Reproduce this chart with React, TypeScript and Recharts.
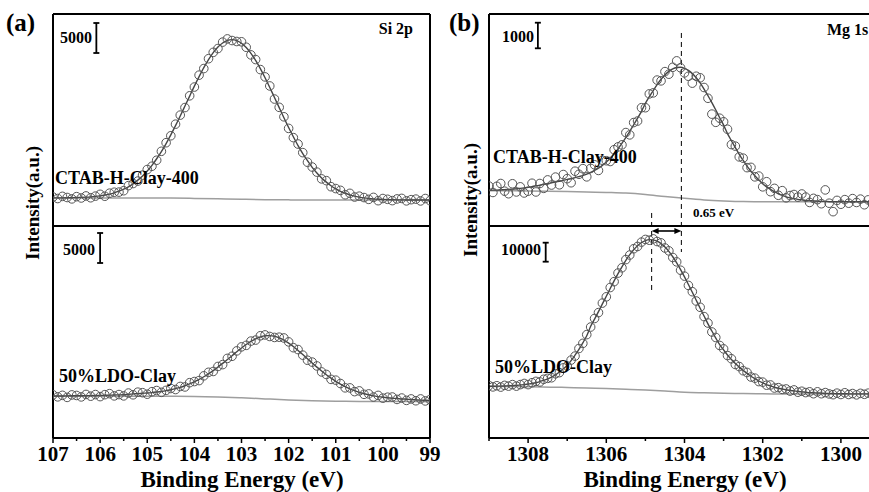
import React from 'react';
import { ComposedChart, Line, Scatter, XAxis, YAxis, ReferenceLine } from 'recharts';

const FONT = 'Liberation Serif, DejaVu Serif, serif';

// ---------- (a) Si 2p ----------
const siEnergy = [
  107.0, 106.9, 106.8, 106.7, 106.6, 106.5, 106.4, 106.3, 106.2, 106.1,
  106.0, 105.9, 105.8, 105.7, 105.6, 105.5, 105.4, 105.3, 105.2, 105.1,
  105.0, 104.9, 104.8, 104.7, 104.6, 104.5, 104.4, 104.3, 104.2, 104.1,
  104.0, 103.9, 103.8, 103.7, 103.6, 103.5, 103.4, 103.3, 103.2, 103.1,
  103.0, 102.9, 102.8, 102.7, 102.6, 102.5, 102.4, 102.3, 102.2, 102.1,
  102.0, 101.9, 101.8, 101.7, 101.6, 101.5, 101.4, 101.3, 101.2, 101.1,
  101.0, 100.9, 100.8, 100.7, 100.6, 100.5, 100.4, 100.3, 100.2, 100.1,
  100.0, 99.9, 99.8, 99.7, 99.6, 99.5, 99.4, 99.3, 99.2, 99.1,
  99.0,
];
const siCtabObs = [
  4830, 4580, 4940, 4750, 4520, 4890, 4670, 5010, 4710, 4980,
  5280, 4960, 5470, 5630, 5650, 5880, 6730, 7080, 7490, 8480,
  9410, 9960, 10960, 12450, 13880, 15040, 16970, 18480, 19740, 21700,
  23160, 25140, 26240, 27880, 28940, 29580, 30650, 31180, 30910, 30750,
  30700, 29790, 28520, 27740, 26070, 24850, 23340, 21160, 19780, 18200,
  16270, 14730, 13660, 12230, 10630, 9830, 8980, 7850, 7560, 6550,
  6240, 5940, 5210, 5440, 4830, 4970, 4740, 4440, 4770, 4220,
  4580, 4450, 4230, 4510, 4600, 4190, 4390, 4480, 4180, 4580,
  4230,
];
const siCtabFit = [
  4680, 4680, 4690, 4700, 4720, 4740, 4770, 4810, 4860, 4930,
  5030, 5160, 5320, 5530, 5800, 6130, 6530, 7030, 7640, 8330,
  9160, 10110, 11210, 12400, 13730, 15190, 16720, 18330, 19990, 21650,
  23310, 24890, 26390, 27730, 28890, 29830, 30500, 30930, 31060, 30900,
  30450, 29740, 28770, 27590, 26220, 24700, 23090, 21410, 19730, 18050,
  16420, 14880, 13410, 12080, 10880, 9780, 8830, 8000, 7310, 6700,
  6190, 5790, 5460, 5190, 4980, 4820, 4690, 4590, 4520, 4470,
  4430, 4400, 4380, 4360, 4350, 4340, 4340, 4330, 4330, 4330,
  4330,
];
const siLdoObs = [
  7200, 6860, 7110, 6770, 7180, 7090, 6850, 7260, 6970, 7240,
  6900, 7220, 7390, 7020, 7240, 7020, 7490, 7200, 7640, 7550,
  7300, 7720, 7910, 7610, 7940, 8250, 8080, 8590, 8510, 9220,
  9410, 9570, 10360, 10950, 11090, 11920, 12230, 13270, 13620, 14520,
  15190, 15440, 16150, 16320, 17040, 17180, 16920, 16760, 16800, 16670,
  16020, 15050, 14740, 13810, 12960, 12650, 12010, 11010, 10590, 9770,
  9640, 9080, 8360, 8350, 7730, 7850, 7280, 7350, 6830, 7100,
  6640, 6800, 6830, 6430, 6660, 6270, 6510, 6210, 6510, 6180,
  6400,
];
const siLdoFit = [
  7000, 7010, 7010, 7020, 7030, 7040, 7050, 7060, 7070, 7090,
  7100, 7120, 7140, 7170, 7190, 7220, 7290, 7350, 7390, 7450,
  7500, 7570, 7660, 7760, 7890, 8050, 8230, 8440, 8710, 9020,
  9360, 9770, 10210, 10700, 11240, 11820, 12430, 13070, 13720, 14370,
  14990, 15590, 16100, 16520, 16840, 17030, 17070, 16960, 16700, 16320,
  15820, 15250, 14590, 13910, 13210, 12500, 11810, 11160, 10540, 9970,
  9440, 8980, 8560, 8200, 7880, 7600, 7380, 7200, 7030, 6900,
  6790, 6700, 6630, 6580, 6510, 6470, 6410, 6360, 6310, 6280,
  6250,
];
const siBgEnergy = [107, 106.5, 106, 105.5, 105, 104.5, 104, 103.5, 103, 102.5, 102, 101.5, 101, 100.5, 100, 99.5, 99];
const siCtabBg = [4670, 4670, 4670, 4670, 4665, 4655, 4600, 4525, 4450, 4390, 4355, 4335, 4330, 4330, 4330, 4330, 4330];
const siLdoBg = [6950, 6950, 6950, 6950, 6950, 6945, 6930, 6850, 6700, 6520, 6350, 6220, 6140, 6100, 6080, 6070, 6060];
const siTicks = [99, 99.5, 100, 100.5, 101, 101.5, 102, 102.5, 103, 103.5, 104, 104.5, 105, 105.5, 106, 106.5, 107];

// ---------- (b) Mg 1s ----------
const mgEnergy = [
  1309.0, 1308.9, 1308.8, 1308.7, 1308.6, 1308.5, 1308.4, 1308.3, 1308.2, 1308.1,
  1308.0, 1307.9, 1307.8, 1307.7, 1307.6, 1307.5, 1307.4, 1307.3, 1307.2, 1307.1,
  1307.0, 1306.9, 1306.8, 1306.7, 1306.6, 1306.5, 1306.4, 1306.3, 1306.2, 1306.1,
  1306.0, 1305.9, 1305.8, 1305.7, 1305.6, 1305.5, 1305.4, 1305.3, 1305.2, 1305.1,
  1305.0, 1304.9, 1304.8, 1304.7, 1304.6, 1304.5, 1304.4, 1304.3, 1304.2, 1304.1,
  1304.0, 1303.9, 1303.8, 1303.7, 1303.6, 1303.5, 1303.4, 1303.3, 1303.2, 1303.1,
  1303.0, 1302.9, 1302.8, 1302.7, 1302.6, 1302.5, 1302.4, 1302.3, 1302.2, 1302.1,
  1302.0, 1301.9, 1301.8, 1301.7, 1301.6, 1301.5, 1301.4, 1301.3, 1301.2, 1301.1,
  1301.0, 1300.9, 1300.8, 1300.7, 1300.6, 1300.5, 1300.4, 1300.3, 1300.2, 1300.1,
  1300.0, 1299.9, 1299.8, 1299.7, 1299.6, 1299.5, 1299.4, 1299.3, 1299.2, 1299.1,
  1299.0,
];
const mgCtabObs = [
  1560, 1310, 1550, 1660, 1360, 1260, 1650, 1330, 1530, 1290,
  1360, 1670, 1330, 1660, 1470, 1800, 1600, 1910, 1610, 2010,
  1850, 1690, 2140, 2020, 2240, 1920, 2250, 2390, 2170, 2570,
  2550, 2520, 2980, 3090, 3170, 3650, 3560, 4040, 4100, 4620,
  4620, 5160, 5200, 5700, 5670, 6030, 5930, 6200, 6450, 6180,
  5980, 5850, 5580, 5850, 5790, 5410, 4990, 4370, 4050, 4210,
  4070, 3780, 3180, 3120, 2700, 2650, 2280, 2290, 1920, 1950,
  1530, 1730, 1340, 1470, 1200, 1380, 1100, 1190, 1230, 1130,
  1250, 1130, 920, 1080, 1030, 870, 1410, 890, 560, 1000,
  850, 1030, 890, 1070, 920, 1050, 830, 1020, 900, 1040,
  930,
];
const mgCtabFit = [
  1390, 1400, 1400, 1410, 1420, 1430, 1440, 1450, 1470, 1490,
  1510, 1540, 1570, 1590, 1630, 1650, 1690, 1720, 1750, 1780,
  1820, 1850, 1890, 1930, 1970, 2030, 2090, 2170, 2260, 2370,
  2500, 2650, 2820, 3010, 3230, 3450, 3700, 3950, 4210, 4480,
  4790, 5050, 5290, 5520, 5730, 5900, 6040, 6140, 6190, 6200,
  6160, 6080, 5960, 5790, 5590, 5350, 5090, 4820, 4530, 4230,
  3940, 3610, 3330, 3060, 2800, 2560, 2340, 2140, 1960, 1800,
  1650, 1530, 1430, 1340, 1260, 1200, 1140, 1100, 1070, 1040,
  1020, 1000, 990, 980, 970, 960, 960, 950, 950, 950,
  950, 950, 950, 950, 950, 950, 950, 950, 950, 950,
  950,
];
const mgLdoObs = [
  27600, 26900, 27500, 26800, 27700, 27300, 28100, 27300, 28100, 28700,
  28100, 29100, 29800, 29500, 30900, 31400, 31700, 33800, 34400, 36900,
  37900, 41000, 43100, 47100, 49800, 54400, 58400, 62900, 66000, 71000,
  74300, 79200, 82300, 86800, 89600, 93900, 96300, 99600, 100800, 103100,
  104500, 104100, 104800, 103400, 102700, 100000, 98500, 95000, 92700, 88300,
  85200, 80300, 77000, 72100, 68800, 63900, 60500, 55800, 52900, 48700,
  46900, 43400, 41700, 38700, 37600, 35400, 34500, 32100, 31500, 29700,
  29400, 27800, 27900, 26300, 26500, 25600, 25800, 24700, 25300, 24100,
  24600, 23900, 24300, 23300, 24300, 23300, 23900, 23200, 22800, 23600,
  22900, 23800, 22900, 23400, 22700, 23500, 23000, 23600, 22900, 23400,
  22800,
];
const mgLdoFit = [
  27200, 27200, 27300, 27300, 27400, 27500, 27600, 27700, 27900, 28100,
  28400, 28700, 29100, 29700, 30400, 31100, 32100, 33200, 34700, 36400,
  38300, 40700, 43600, 46700, 50100, 53800, 58800, 62600, 66500, 70600,
  74600, 78700, 82700, 86500, 90100, 93500, 96500, 99100, 101200, 102800,
  103900, 104400, 104300, 103600, 102300, 100500, 98200, 95400, 92200, 88600,
  84800, 80800, 76700, 72500, 68300, 64200, 60100, 56300, 52600, 49100,
  46350, 43700, 41300, 39200, 37300, 35600, 34000, 32500, 31200, 30000,
  29000, 28100, 27400, 26700, 26200, 25800, 25400, 25000, 24800, 24500,
  24300, 24100, 23900, 23800, 23700, 23600, 23500, 23400, 23400, 23300,
  23300, 23300, 23200, 23200, 23200, 23200, 23200, 23200, 23200, 23200,
  23200,
];
const mgBgEnergy = [1309, 1308, 1307, 1306.5, 1306, 1305.5, 1305, 1304.5, 1304, 1303.5, 1303, 1302.5, 1302, 1301, 1300, 1299];
const mgCtabBg = [1380, 1370, 1350, 1330, 1310, 1285, 1230, 1150, 1080, 1020, 980, 955, 950, 947, 945, 945];
const mgLdoBg = [27100, 27000, 26580, 26310, 26050, 25680, 25260, 24740, 24100, 23790, 23530, 23400, 23260, 23160, 23160, 23160];
const mgTicks = [1299, 1300, 1301, 1302, 1303, 1304, 1305, 1306, 1307, 1308, 1309];

const zip = (xs: number[], ys: number[]) => xs.map((x, i) => ({ x, y: ys[i] }));

const OBS_COLOR = '#555555';
const FIT_COLOR = '#454545';
const BG_COLOR = '#9e9e9e';

const CircleMark = (p: any) =>
  p.cx == null ? <g /> : <circle cx={p.cx} cy={p.cy} r={4.3} fill="none" stroke={OBS_COLOR} strokeWidth={1} />;

const makeTick = (labeled: (v: number) => boolean) => (props: any) => {
  const { x, y, payload } = props;
  const v = payload.value;
  const lab = labeled(v);
  return (
    <g>
      <line x1={x} x2={x} y1={y} y2={y + (lab ? 5 : 3)} stroke="#000" strokeWidth={1.5} />
      {lab && (
        <text x={x} y={y + 23} textAnchor="middle" fontFamily={FONT} fontWeight="bold" fontSize={21} fill="#000">
          {v}
        </text>
      )}
    </g>
  );
};

const ScaleBarShape = (p: any) => {
  const { x1, y1, x2, y2 } = p;
  return (
    <g stroke="#000" strokeWidth={1.8}>
      <line x1={x1} y1={y1} x2={x2} y2={y2} />
      <line x1={x1 - 3} x2={x1 + 3} y1={y1} y2={y1} />
      <line x1={x2 - 3} x2={x2 + 3} y1={y2} y2={y2} />
    </g>
  );
};

const ArrowShape = (p: any) => {
  const { x1, y1, x2, y2 } = p;
  const left = Math.min(x1, x2);
  const right = Math.max(x1, x2);
  const y = (y1 + y2) / 2;
  return (
    <g>
      <line x1={left + 4} x2={right - 4} y1={y} y2={y} stroke="#000" strokeWidth={1.6} />
      <polygon points={`${left},${y} ${left + 7},${y - 3} ${left + 7},${y + 3}`} fill="#000" />
      <polygon points={`${right},${y} ${right - 7},${y - 3} ${right - 7},${y + 3}`} fill="#000" />
    </g>
  );
};

const frame = { stroke: '#000', strokeWidth: 2, ifOverflow: 'visible' as const };

type ColumnProps = {
  width: number;
  marginLeft: number;
  marginRight: number;
  xDomain: [number, number];
  ticks: number[];
  labeled: (v: number) => boolean;
  topDomain: [number, number];
  botDomain: [number, number];
  energy: number[];
  topObs: number[];
  topFit: number[];
  botObs: number[];
  botFit: number[];
  bgEnergy: number[];
  topBg: number[];
  botBg: number[];
};

const renderColumn = (c: ColumnProps, extras: React.ReactNode[]) => (
  <ComposedChart width={c.width} height={492} margin={{ top: 14, right: c.marginRight, bottom: 0, left: c.marginLeft }}>
    <XAxis
      dataKey="x"
      type="number"
      domain={c.xDomain}
      reversed
      allowDataOverflow
      ticks={c.ticks}
      interval={0}
      height={54}
      tickSize={0}
      tickMargin={0}
      tickLine={false}
      axisLine={{ stroke: '#000', strokeWidth: 2 }}
      tick={makeTick(c.labeled)}
    />
    <YAxis yAxisId="t" dataKey="y" type="number" hide domain={c.topDomain} allowDataOverflow />
    <YAxis yAxisId="b" dataKey="y" type="number" hide domain={c.botDomain} allowDataOverflow />

    <Line yAxisId="t" data={zip(c.bgEnergy, c.topBg)} dataKey="y" type="monotone" stroke={BG_COLOR} strokeWidth={1.5} dot={false} isAnimationActive={false} />
    <Line yAxisId="b" data={zip(c.bgEnergy, c.botBg)} dataKey="y" type="monotone" stroke={BG_COLOR} strokeWidth={1.5} dot={false} isAnimationActive={false} />
    <Scatter yAxisId="t" data={zip(c.energy, c.topObs)} dataKey="y" shape={CircleMark} isAnimationActive={false} />
    <Scatter yAxisId="b" data={zip(c.energy, c.botObs)} dataKey="y" shape={CircleMark} isAnimationActive={false} />
    <Line yAxisId="t" data={zip(c.energy, c.topFit)} dataKey="y" type="monotone" stroke={FIT_COLOR} strokeWidth={1.4} dot={false} isAnimationActive={false} />
    <Line yAxisId="b" data={zip(c.energy, c.botFit)} dataKey="y" type="monotone" stroke={FIT_COLOR} strokeWidth={1.4} dot={false} isAnimationActive={false} />

    <ReferenceLine yAxisId="t" x={c.xDomain[1]} {...frame} />
    <ReferenceLine yAxisId="t" x={c.xDomain[0]} {...frame} />
    <ReferenceLine yAxisId="t" y={c.topDomain[1]} {...frame} />
    <ReferenceLine yAxisId="t" y={0} {...frame} />
    {extras}
  </ComposedChart>
);

const txt = (extra: any = {}) => ({ fontFamily: FONT, fontWeight: 'bold' as const, fill: '#000', ...extra });

export default function App() {
  const colA = renderColumn(
    {
      width: 450,
      marginLeft: 53,
      marginRight: 20,
      xDomain: [99, 107],
      ticks: siTicks,
      labeled: (v) => Number.isInteger(v),
      topDomain: [-35333, 35333],
      botDomain: [0, 70667],
      energy: siEnergy,
      topObs: siCtabObs,
      topFit: siCtabFit,
      botObs: siLdoObs,
      botFit: siLdoFit,
      bgEnergy: siBgEnergy,
      topBg: siCtabBg,
      botBg: siLdoBg,
    },
    [
      <ReferenceLine key="sb1" yAxisId="t" ifOverflow="visible" segment={[{ x: 106.08, y: 28833 }, { x: 106.08, y: 33833 }]} shape={ScaleBarShape} />,
      <ReferenceLine key="sb2" yAxisId="b" ifOverflow="visible" segment={[{ x: 106.0, y: 29167 }, { x: 106.0, y: 34167 }]} shape={ScaleBarShape} />,
    ]
  );

  const colB = renderColumn(
    {
      width: 445,
      marginLeft: 49,
      marginRight: 5,
      xDomain: [1299, 1309],
      ticks: mgTicks,
      labeled: (v) => v % 2 === 0,
      topDomain: [-8281, 8281],
      botDomain: [0, 223150],
      energy: mgEnergy,
      topObs: mgCtabObs,
      topFit: mgCtabFit,
      botObs: mgLdoObs,
      botFit: mgLdoFit,
      bgEnergy: mgBgEnergy,
      topBg: mgCtabBg,
      botBg: mgLdoBg,
    },
    [
      <ReferenceLine key="sb1" yAxisId="t" ifOverflow="visible" segment={[{ x: 1307.75, y: 6941 }, { x: 1307.75, y: 7941 }]} shape={ScaleBarShape} />,
      <ReferenceLine key="sb2" yAxisId="b" ifOverflow="visible" segment={[{ x: 1307.55, y: 92790 }, { x: 1307.55, y: 102790 }]} shape={ScaleBarShape} />,
      <ReferenceLine key="d1" yAxisId="t" ifOverflow="visible" segment={[{ x: 1304.08, y: 7539 }, { x: 1304.08, y: -1016 }]} stroke="#000" strokeWidth={1} strokeDasharray="5 4" />,
      <ReferenceLine key="d2" yAxisId="t" ifOverflow="visible" segment={[{ x: 1304.84, y: 508 }, { x: 1304.84, y: -2578 }]} stroke="#000" strokeWidth={1} strokeDasharray="5 4" />,
      <ReferenceLine key="arr" yAxisId="t" ifOverflow="visible" segment={[{ x: 1304.84, y: -195 }, { x: 1304.08, y: -195 }]} shape={ArrowShape} />,
    ]
  );

  return (
    <div style={{ position: 'fixed', left: 0, top: 0, width: 869, height: 492, overflow: 'hidden', background: '#fff' }}>
      <div style={{ position: 'absolute', left: 0, top: 0 }}>{colA}</div>
      <div style={{ position: 'absolute', left: 440, top: 0 }}>{colB}</div>
      <svg width={869} height={492} style={{ position: 'absolute', left: 0, top: 0, pointerEvents: 'none' }}>
        <text x={6} y={31} fontSize={25} {...txt()}>(a)</text>
        <text x={449} y={31} fontSize={25} {...txt()}>(b)</text>
        <text x={413} y={34} fontSize={16} textAnchor="end" {...txt()}>Si 2p</text>
        <text x={827} y={35} fontSize={16} {...txt()}>Mg 1s</text>

        <text x={92} y={43} fontSize={16} textAnchor="end" {...txt()}>5000</text>
        <text x={95} y={255} fontSize={16} textAnchor="end" {...txt()}>5000</text>
        <text x={534} y={42} fontSize={16} textAnchor="end" {...txt()}>1000</text>
        <text x={541} y={255} fontSize={16} textAnchor="end" {...txt()}>10000</text>

        <text x={55} y={184} fontSize={18} {...txt()}>CTAB-H-Clay-400</text>
        <text x={59} y={382} fontSize={18} {...txt()}>50%LDO-Clay</text>
        <text x={493} y={163} fontSize={18} {...txt()}>CTAB-H-Clay-400</text>
        <text x={495} y={373} fontSize={18} {...txt()}>50%LDO-Clay</text>

        <text x={693} y={217} fontSize={13} {...txt()}>0.65 eV</text>

        <text x={39} y={203} fontSize={19} textAnchor="middle" transform="rotate(-90, 39, 203)" {...txt()}>Intensity(a.u.)</text>
        <text x={477} y={200} fontSize={19} textAnchor="middle" transform="rotate(-90, 477, 200)" {...txt()}>Intensity(a.u.)</text>

        <text x={242} y={487} fontSize={23} textAnchor="middle" {...txt()}>Binding Energy (eV)</text>
        <text x={685} y={487} fontSize={23} textAnchor="middle" {...txt()}>Binding Energy (eV)</text>
      </svg>
    </div>
  );
}
